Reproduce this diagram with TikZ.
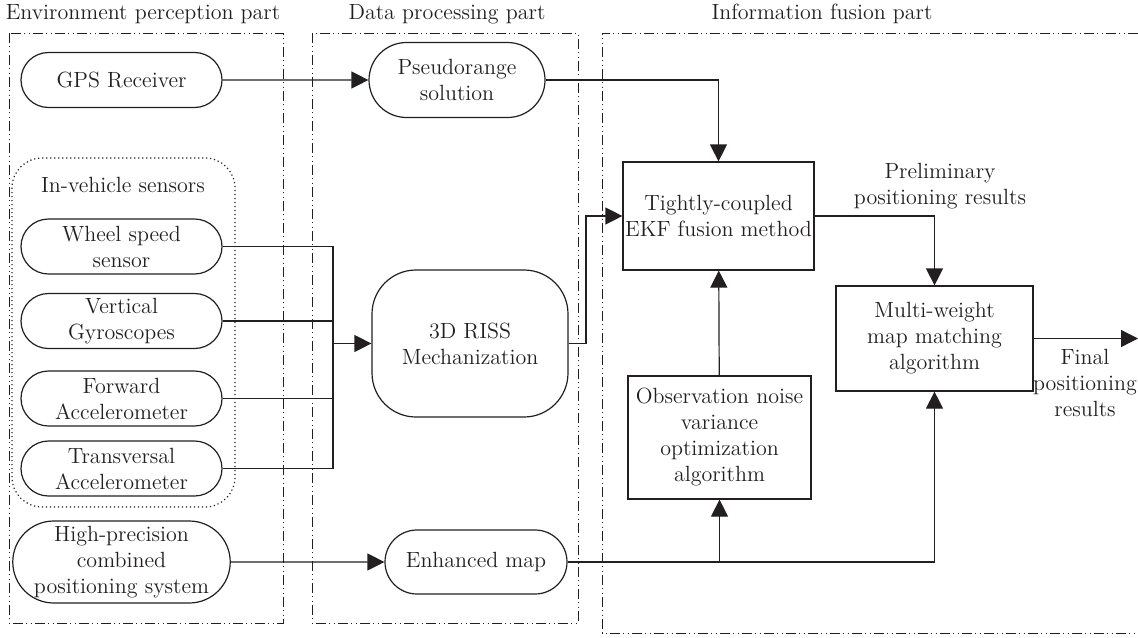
\documentclass[tikz,border=0pt]{standalone}
\usetikzlibrary{arrows.meta,shapes.misc}
\definecolor{ink}{HTML}{231F20}
\begin{document}
\begin{tikzpicture}[x=0.5pt,y=-0.5pt,
    line width=0.6pt, color=ink,
    >={Triangle[length=8.5pt,width=8.5pt]},
    every node/.style={font=\fontsize{11}{13}\selectfont, align=center, inner sep=0pt, text=ink},
    capsule/.style={draw, rounded rectangle, minimum width=100.5pt, minimum height=27.5pt},
    blockbox/.style={draw, rectangle},
    partbox/.style={line width=0.5pt, dash pattern=on 5pt off 1.6pt on 0.6pt off 1.6pt on 0.6pt off 1.6pt},
    groupbox/.style={line width=0.6pt, dash pattern=on 0.6pt off 1.4pt, rounded corners=15pt}]

    \useasboundingbox (0,0) rectangle (1138,637);

    % Part frames and titles
    \draw[partbox] (9,33) rectangle (283,623);
    \draw[partbox] (312,33) rectangle (578,623);
    \draw[partbox] (1138,33) -- (602,33) -- (602,633) -- (1138,633);
    \node (envtitle) at (143,14) {Environment perception part};
    \node (datatitle) at (447,14) {Data processing part};
    \node (fusetitle) at (822,14) {Information fusion part};

    % Environment perception part
    \node[capsule] (gps) at (121.5,80) {GPS Receiver};
    \draw[groupbox] (12,158) rectangle (235,507);
    \node (sensors) at (123,185) {In-vehicle sensors};
    \node[capsule] (wheel) at (121.5,246.5) {Wheel speed\\sensor};
    \node[capsule] (vert) at (121.5,321) {Vertical\\Gyroscopes};
    \node[capsule] (fwd) at (121.5,398.5) {Forward\\Accelerometer};
    \node[capsule] (trans) at (121.5,468.5) {Transversal\\Accelerometer};
    \node[capsule, minimum width=102.5pt, minimum height=41pt] (hp) at (121.5,562) {High-precision\\combined\\positioning system};

    % Data processing part
    \node[capsule, minimum width=88pt, minimum height=37.5pt] (pseudo) at (457,80) {Pseudorange\\solution};
    \node[draw, rounded corners=22pt, minimum width=98pt, minimum height=73.5pt] (riss) at (470,343.5) {3D RISS\\Mechanization};
    \node[capsule, minimum width=91pt, minimum height=32pt] (map) at (476,562) {Enhanced map};

    % Information fusion part
    \node[blockbox, minimum width=95.5pt, minimum height=54pt] (tight) at (718.5,216) {Tightly-coupled\\EKF fusion method};
    \node[blockbox, minimum width=91.5pt, minimum height=61.5pt] (obs) at (719.5,437.5) {Observation noise\\variance\\optimization\\algorithm};
    \node[blockbox, minimum width=98.5pt, minimum height=52.5pt] (multi) at (934.5,338.5) {Multi-weight\\map matching\\algorithm};
    \node (prelim) at (940,186) {Preliminary\\positioning results};
    \node (final) at (1085,383) {Final\\positioning\\results};

    % Connections
    \coordinate (jn) at (333,343.5);
    \coordinate (rissbend) at (586,343.5);
    \coordinate (out) at (1138,338.5);
    \draw[->] (gps) -- (pseudo);
    \draw[->] (pseudo.east) -| (tight.north);
    \draw (wheel.east) -| (jn);
    \draw (trans.east) -| (jn);
    \draw (vert.east) -- (vert.east -| jn);
    \draw (fwd.east) -- (fwd.east -| jn);
    \draw[->] (jn) -- (riss.west);
    \draw[->] (riss.east) -- (rissbend) |- (tight.west);
    \draw[->] (hp) -- (map);
    \coordinate (mapsplit) at (obs.south |- map.east);
    \draw[->] (map.east) -| (multi.south);
    \draw[->] (mapsplit) -- (obs.south);
    \draw[->] (obs) -- (tight);
    \draw[->] (tight.east) -| (multi.north);
    \draw[->] (multi) -- (out);
\end{tikzpicture}
\end{document}
